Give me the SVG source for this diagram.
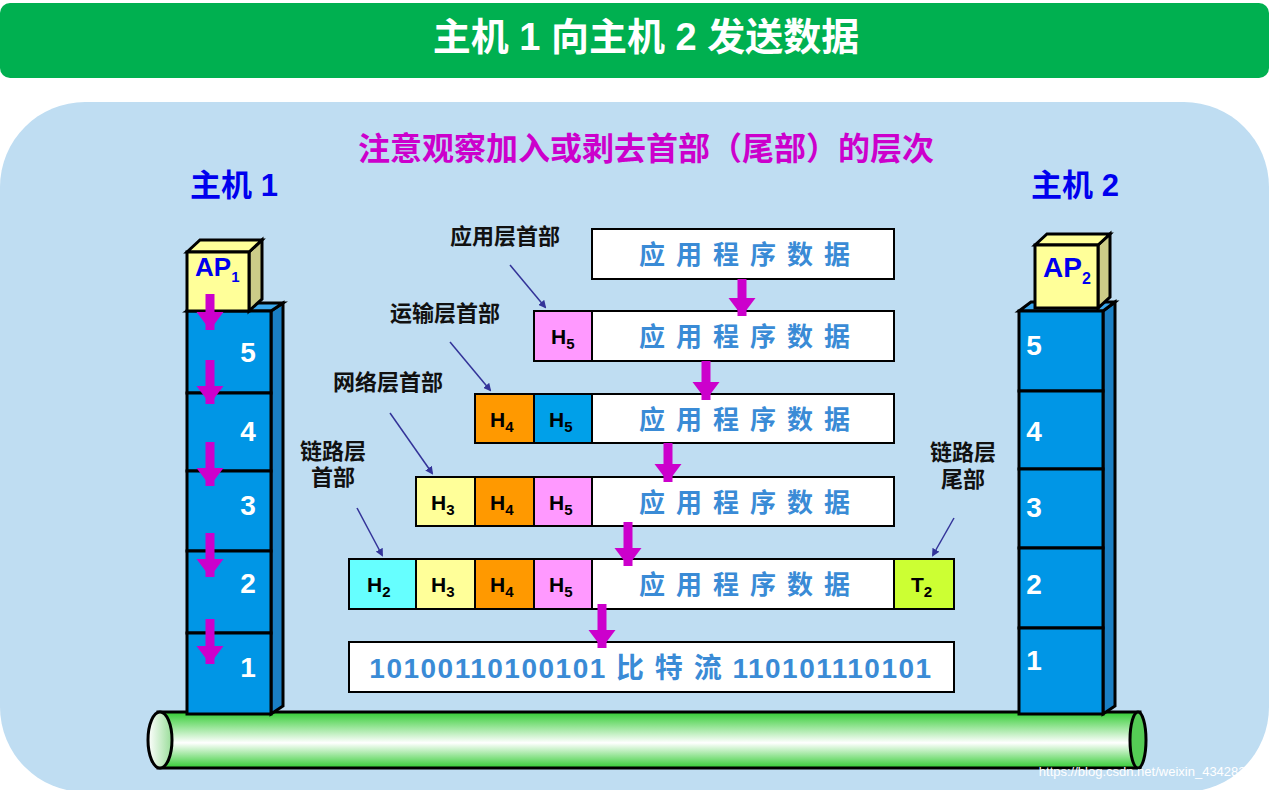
<svg xmlns="http://www.w3.org/2000/svg" width="1269" height="790" viewBox="0 0 1269 790">
<defs>
<linearGradient id="cab" x1="0" y1="0" x2="0" y2="1"><stop offset="0" stop-color="#33cc33"/><stop offset="0.55" stop-color="#ffffff"/><stop offset="1" stop-color="#33cc33"/></linearGradient>
<linearGradient id="cabE" x1="0" y1="0" x2="1" y2="0"><stop offset="0" stop-color="#ffffff"/><stop offset="1" stop-color="#99dd99"/></linearGradient>
<marker id="mg" markerWidth="4" markerHeight="4" refX="2" refY="2" orient="auto" markerUnits="strokeWidth"><path d="M0,0.5 L2,2 L0,3.5 Z" fill="#cc00cc"/></marker>
<marker id="nv" markerWidth="8" markerHeight="8" refX="6" refY="4" orient="auto" markerUnits="userSpaceOnUse"><path d="M0,0 L8,4 L0,8 Z" fill="#333399"/></marker>
</defs>
<style>
text{font-family:"Liberation Sans","Noto Sans CJK SC",sans-serif;font-weight:bold}
.box{stroke:#000;stroke-width:2}
.lay{fill:#0096e6;stroke:#000;stroke-width:3}
.side{fill:#1a7fc4;stroke:#000;stroke-width:3}
.top{fill:#3aa8ee;stroke:#000;stroke-width:3}
.num{fill:#fff;font-size:28px;font-family:"Liberation Sans",sans-serif}
.data{fill:#3a8bd6;font-size:26px;letter-spacing:11px}
.h{fill:#000;font-size:21px}
.lbl{fill:#111;font-size:22px}
.mg{stroke:#cc00cc;stroke-width:9;marker-end:url(#mg)}
.nv{stroke:#333399;stroke-width:1.5;marker-end:url(#nv)}
</style>
<rect x="0" y="3" width="1269" height="75" rx="10" fill="#00b050"/>
<text x="646" y="50" text-anchor="middle" fill="#fff" font-size="38">主机 1 向主机 2 发送数据</text>
<rect x="0" y="102" width="1269" height="690" rx="85" fill="#bfddf2"/>
<text x="646" y="160" text-anchor="middle" fill="#cc00cc" font-size="32">注意观察加入或剥去首部（尾部）的层次</text>
<text x="234" y="196" text-anchor="middle" fill="#0000ee" font-size="31">主机 1</text>
<text x="1075" y="196" text-anchor="middle" fill="#0000ee" font-size="31">主机 2</text>
<g id="cable">
<rect x="158" y="712" width="982" height="56" fill="url(#cab)" stroke="#000" stroke-width="3"/>
<ellipse cx="1138" cy="740" rx="8" ry="28" fill="#55cc55" stroke="#000" stroke-width="3"/>
<ellipse cx="160" cy="740" rx="12" ry="28" fill="url(#cabE)" stroke="#000" stroke-width="3"/>
</g>
<g id="host1">
<polygon class="side" points="271,311 283,303 283,706 271,714"/>
<polygon class="top" points="187,311 199,303 283,303 271,311"/>
<rect class="lay" x="187" y="311" width="84" height="82"/>
<rect class="lay" x="187" y="393" width="84" height="78"/>
<rect class="lay" x="187" y="471" width="84" height="80"/>
<rect class="lay" x="187" y="551" width="84" height="82"/>
<rect class="lay" x="187" y="633" width="84" height="81"/>
<text class="num" x="248" y="362" text-anchor="middle">5</text>
<text class="num" x="248" y="441" text-anchor="middle">4</text>
<text class="num" x="248" y="515" text-anchor="middle">3</text>
<text class="num" x="248" y="593" text-anchor="middle">2</text>
<text class="num" x="248" y="677" text-anchor="middle">1</text>
<polygon points="249,252 262,240 262,299 249,311" fill="#cccc88" stroke="#000" stroke-width="3"/>
<polygon points="187,252 200,240 262,240 249,252" fill="#ffff99" stroke="#000" stroke-width="3"/>
<rect x="187" y="252" width="62" height="59" fill="#ffff99" stroke="#000" stroke-width="3"/>
<text x="195" y="276" fill="#0000ee" font-size="26">AP<tspan font-size="15" dy="6">1</tspan></text>
<line class="mg" x1="210" y1="294" x2="210" y2="330"/>
<line class="mg" x1="210" y1="360" x2="210" y2="404"/>
<line class="mg" x1="210" y1="442" x2="210" y2="486"/>
<line class="mg" x1="210" y1="533" x2="210" y2="577"/>
<line class="mg" x1="210" y1="619" x2="210" y2="664"/>
</g>
<g id="host2">
<polygon class="side" points="1103,311 1115,302 1115,706 1103,714"/>
<polygon class="top" points="1019,311 1031,302 1115,302 1103,311"/>
<rect class="lay" x="1019" y="311" width="84" height="80"/>
<rect class="lay" x="1019" y="391" width="84" height="78"/>
<rect class="lay" x="1019" y="469" width="84" height="79"/>
<rect class="lay" x="1019" y="548" width="84" height="80"/>
<rect class="lay" x="1019" y="628" width="84" height="86"/>
<text class="num" x="1034" y="355" text-anchor="middle">5</text>
<text class="num" x="1034" y="441" text-anchor="middle">4</text>
<text class="num" x="1034" y="517" text-anchor="middle">3</text>
<text class="num" x="1034" y="594" text-anchor="middle">2</text>
<text class="num" x="1034" y="670" text-anchor="middle">1</text>
<polygon points="1098,245 1110,234 1110,297 1098,308" fill="#cccc88" stroke="#000" stroke-width="3"/>
<polygon points="1035,245 1047,234 1110,234 1098,245" fill="#ffff99" stroke="#000" stroke-width="3"/>
<rect x="1035" y="245" width="63" height="63" fill="#ffff99" stroke="#000" stroke-width="3"/>
<text x="1043" y="277" fill="#0000ee" font-size="28">AP<tspan font-size="16" dy="7">2</tspan></text>
</g>
<g id="rows">
<rect class="box" x="592" y="229" width="302" height="50" fill="#fff"/>
<text class="data" x="750" y="264" text-anchor="middle">应用程序数据</text>
<rect class="box" x="534" y="311" width="58" height="50" fill="#ff99ff"/>
<rect class="box" x="592" y="311" width="302" height="50" fill="#fff"/>
<text class="h" x="551" y="344">H<tspan font-size="15" dy="5">5</tspan></text>
<text class="data" x="750" y="346" text-anchor="middle">应用程序数据</text>
<rect class="box" x="475" y="394" width="59" height="49" fill="#ff9900"/>
<rect class="box" x="534" y="394" width="58" height="49" fill="#00a0e9"/>
<rect class="box" x="592" y="394" width="302" height="49" fill="#fff"/>
<text class="h" x="490" y="427">H<tspan font-size="15" dy="5">4</tspan></text>
<text class="h" x="549" y="427">H<tspan font-size="15" dy="5">5</tspan></text>
<text class="data" x="750" y="429" text-anchor="middle">应用程序数据</text>
<rect class="box" x="416" y="477" width="59" height="49" fill="#ffff99"/>
<rect class="box" x="475" y="477" width="59" height="49" fill="#ff9900"/>
<rect class="box" x="534" y="477" width="58" height="49" fill="#ff99ff"/>
<rect class="box" x="592" y="477" width="302" height="49" fill="#fff"/>
<text class="h" x="431" y="510">H<tspan font-size="15" dy="5">3</tspan></text>
<text class="h" x="490" y="510">H<tspan font-size="15" dy="5">4</tspan></text>
<text class="h" x="549" y="510">H<tspan font-size="15" dy="5">5</tspan></text>
<text class="data" x="750" y="512" text-anchor="middle">应用程序数据</text>
<rect class="box" x="349" y="559" width="67" height="50" fill="#66ffff"/>
<rect class="box" x="416" y="559" width="59" height="50" fill="#ffff99"/>
<rect class="box" x="475" y="559" width="59" height="50" fill="#ff9900"/>
<rect class="box" x="534" y="559" width="58" height="50" fill="#ff99ff"/>
<rect class="box" x="592" y="559" width="302" height="50" fill="#fff"/>
<rect class="box" x="894" y="559" width="60" height="50" fill="#ccff33"/>
<text class="h" x="367" y="592">H<tspan font-size="15" dy="5">2</tspan></text>
<text class="h" x="431" y="592">H<tspan font-size="15" dy="5">3</tspan></text>
<text class="h" x="490" y="592">H<tspan font-size="15" dy="5">4</tspan></text>
<text class="h" x="549" y="592">H<tspan font-size="15" dy="5">5</tspan></text>
<text class="h" x="911" y="592">T<tspan font-size="15" dy="5">2</tspan></text>
<text class="data" x="750" y="594" text-anchor="middle">应用程序数据</text>
<rect class="box" x="349" y="642" width="605" height="50" fill="#fff"/>
<text x="651" y="678" text-anchor="middle" fill="#3a8bd6" font-size="28" letter-spacing="1.5">10100110100101 比 特 流 110101110101</text>
</g>
<g id="labels">
<text class="lbl" x="505" y="244" text-anchor="middle">应用层首部</text>
<text class="lbl" x="445" y="321" text-anchor="middle">运输层首部</text>
<text class="lbl" x="388" y="390" text-anchor="middle">网络层首部</text>
<text class="lbl" x="333" y="459" text-anchor="middle">链路层</text>
<text class="lbl" x="333" y="485" text-anchor="middle">首部</text>
<text class="lbl" x="963" y="460" text-anchor="middle">链路层</text>
<text class="lbl" x="963" y="487" text-anchor="middle">尾部</text>
</g>
<g id="connectors">
<line class="nv" x1="510" y1="265" x2="545" y2="307"/>
<line class="nv" x1="450" y1="342" x2="490" y2="390"/>
<line class="nv" x1="390" y1="413" x2="432" y2="473"/>
<line class="nv" x1="357" y1="508" x2="382" y2="555"/>
<line class="nv" x1="954" y1="518" x2="933" y2="555"/>
<line class="mg" x1="742" y1="279" x2="742" y2="316"/>
<line class="mg" x1="706" y1="361" x2="706" y2="400"/>
<line class="mg" x1="668" y1="443" x2="668" y2="482"/>
<line class="mg" x1="628" y1="522" x2="628" y2="566"/>
<line class="mg" x1="602" y1="604" x2="602" y2="648"/>
</g>
<text x="1260" y="776" text-anchor="end" fill="#ffffff" font-size="13" style="font-weight:normal">https://blog.csdn.net/weixin_43428283</text>
</svg>
